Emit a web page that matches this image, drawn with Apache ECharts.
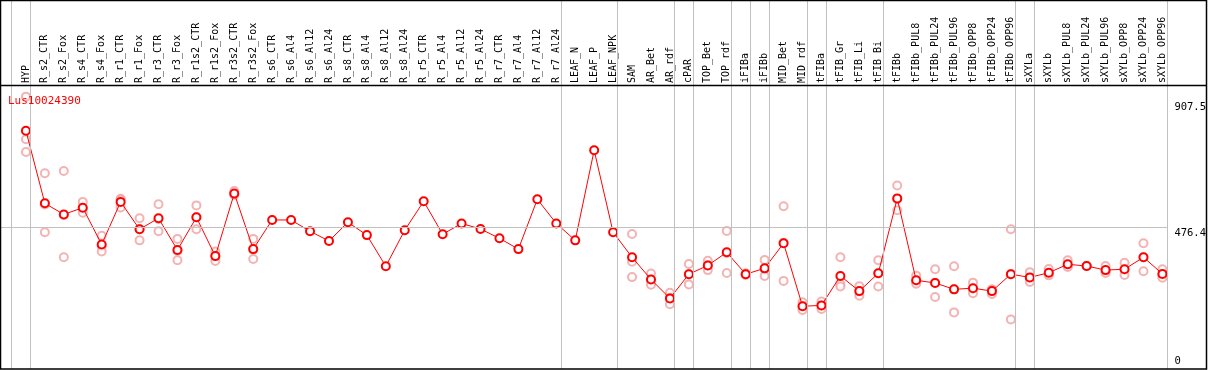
<!DOCTYPE html>
<html><head><meta charset="utf-8">
<script src="https://cdn.jsdelivr.net/npm/echarts@6/dist/echarts.min.js"></script>
<style>html,body{margin:0;padding:0;background:#fff}#c{width:1209px;height:370px}</style>
</head><body><div id="c"></div>
<script>
const categories = ['HYP','R_s2_CTR','R_s2_Fox','R_s4_CTR','R_s4_Fox','R_r1_CTR','R_r1_Fox','R_r3_CTR','R_r3_Fox','R_r1s2_CTR','R_r1s2_Fox','R_r3s2_CTR','R_r3s2_Fox','R_s6_CTR','R_s6_Al4','R_s6_Al12','R_s6_Al24','R_s8_CTR','R_s8_Al4','R_s8_Al12','R_s8_Al24','R_r5_CTR','R_r5_Al4','R_r5_Al12','R_r5_Al24','R_r7_CTR','R_r7_Al4','R_r7_Al12','R_r7_Al24','LEAF_N','LEAF_P','LEAF_NPK','SAM','AR_Bet','AR_rdf','cPAR','TOP_Bet','TOP_rdf','iFIBa','iFIBb','MID_Bet','MID_rdf','tFIBa','tFIB_Gr','tFIB_Li','tFIB_Bi','tFIBb','tFIBb_PUL8','tFIBb_PUL24','tFIBb_PUL96','tFIBb_OPP8','tFIBb_OPP24','tFIBb_OPP96','sXYLa','sXYLb','sXYLb_PUL8','sXYLb_PUL24','sXYLb_PUL96','sXYLb_OPP8','sXYLb_OPP24','sXYLb_OPP96'];
const meanValues = [809,560,522,545,419,565,471,509,400,512,379,594,403,503,503,464,431,495,451,344,468,567,454,491,472,440,403,574,491,433,742,461,375,299,234,317,347,392,317,337,423,207,210,311,259,320,577,296,287,265,269,259,317,306,322,351,345,331,334,375,318];
const rep1 = [926,663,671,565,449,576,509,557,438,553,395,602,438,null,null,null,null,null,null,null,null,null,null,null,null,null,null,null,null,null,null,null,455,319,253,352,363,465,320,366,550,221,223,375,276,365,621,312,334,344,288,265,471,324,335,365,345,345,356,423,334];
const rep2 = [780,556,520,542,413,573,471,506,397,512,380,590,402,null,null,null,null,null,null,null,null,null,null,null,null,null,null,null,null,null,null,null,360,298,236,317,348,390,317,334,425,206,209,283,258,320,574,292,288,265,267,263,318,304,318,346,345,327,332,375,315];
const rep3 = [736,461,375,528,395,546,433,464,365,471,362,590,369,null,null,null,null,null,null,null,null,null,null,null,null,null,null,null,null,null,null,null,307,281,214,282,331,321,314,311,294,194,198,275,243,275,536,284,239,186,252,249,162,290,313,342,345,321,314,327,305];
const yTicks = [0, 476.4, 907.5];
const yTickLabels = ['0', '476.4', '907.5'];
const groupEnds = ['HYP','R_r7_Al24','LEAF_NPK','AR_rdf','cPAR','TOP_rdf','iFIBa','iFIBb','MID_rdf','tFIBa','tFIB_Bi','tFIBb_OPP96','sXYLa','sXYLb_OPP96'];
const geneName = 'Lus10024390';

const MONO = '"DejaVu Sans Mono", "Liberation Mono", monospace';
const sepOffset = 0.24;
const sepValues = [-1].concat(groupEnds.map(n => categories.indexOf(n))).map(i => i + sepOffset);
const idx = categories.map((_, i) => i);
const toPts = arr => arr.map((v, i) => v == null ? null : [i, v]).filter(p => p);
const repPts = toPts(rep1).concat(toPts(rep2), toPts(rep3));

const chart = echarts.init(document.getElementById('c'), null, {renderer: 'canvas'});
const yMin = -8.2, yMax = 1254;
const xMin = -25 / 19, xMax = 60.263;
chart.setOption({
  animation: false,
  title: {text: geneName, left: 3, top: 91, textStyle: {color: '#ff0000', fontSize: 11, fontWeight: 'normal', fontFamily: MONO}},
  grid: {left: 1, top: 1, width: 1170, height: 368},
  xAxis: {
    type: 'value', min: xMin, max: xMax, position: 'top', offset: -84,
    axisLine: {show: false}, axisTick: {show: false}, splitLine: {show: false},
    axisLabel: {customValues: idx, rotate: 90, margin: 2, fontSize: 10, fontFamily: MONO, color: '#000',
      formatter: v => categories[Math.round(v)] || ''}
  },
  yAxis: [
    {type: 'value', min: yMin, max: yMax, position: 'right', axisLine: {show: false}, axisTick: {show: false}, splitLine: {show: false},
      axisLabel: {customValues: yTicks.slice(1), margin: 7, fontSize: 10.5, fontFamily: MONO, color: '#000', verticalAlign: 'top',
        formatter: v => yTickLabels[yTicks.indexOf(v)]}},
    {type: 'value', min: yMin, max: yMax, position: 'right', axisLine: {show: false}, axisTick: {show: false}, splitLine: {show: false},
      axisLabel: {customValues: yTicks.slice(0, 1), margin: 7, fontSize: 10.5, fontFamily: MONO, color: '#000', verticalAlign: 'bottom',
        formatter: v => yTickLabels[yTicks.indexOf(v)]}}
  ],
  graphic: [
    {type: 'rect', shape: {x: 0.5, y: 0.5, width: 1206, height: 368.5}, style: {fill: 'none', stroke: '#000', lineWidth: 1.5}, z: 100},
    {type: 'line', shape: {x1: 0, y1: 85.5, x2: 1207, y2: 85.5}, style: {stroke: '#000', lineWidth: 1.5}, z: 100}
  ],
  series: [
    {type: 'line', data: [], silent: true, z: 1,
      markLine: {silent: true, symbol: 'none', animation: false, label: {show: false},
        lineStyle: {color: '#c0c0c0', width: 1, type: 'solid'},
        data: sepValues.map(x => ({xAxis: x})).concat([{yAxis: yTicks[1]}])}},
    {type: 'scatter', data: repPts, symbol: 'emptyCircle', symbolSize: 8, z: 2,
      itemStyle: {color: '#f0a0a0', borderColor: '#f0a0a0', borderWidth: 1.2}},
    {type: 'line', data: meanValues.map((v, i) => [i, v]), symbol: 'emptyCircle', symbolSize: 8, z: 3,
      lineStyle: {color: '#ff0000', width: 1}, itemStyle: {color: '#ff0000', borderColor: '#ff0000', borderWidth: 1.3}}
  ]
});
</script></body></html>
